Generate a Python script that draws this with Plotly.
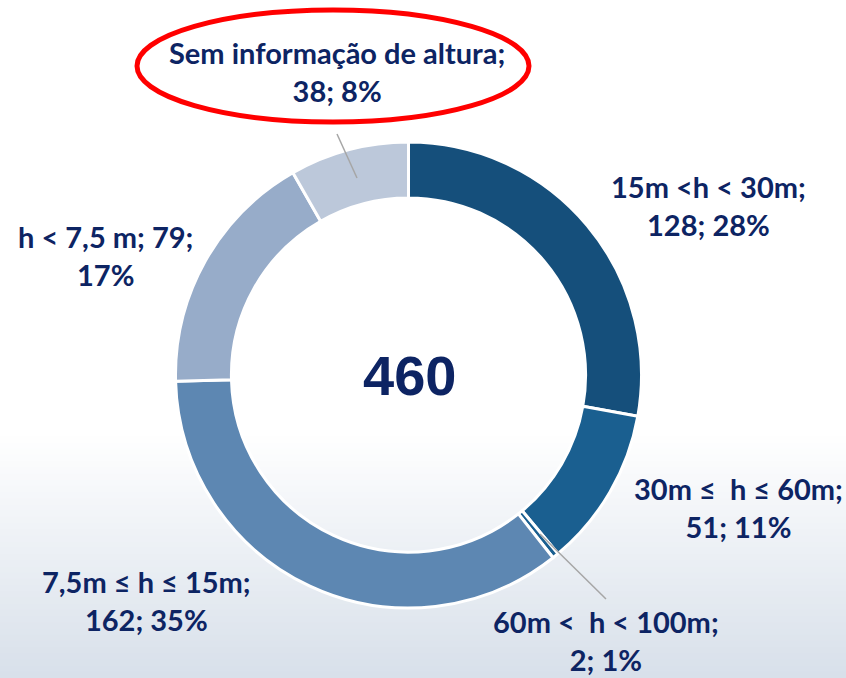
import plotly.graph_objects as go

categories = [
    "15m <h < 30m",
    "30m ≤  h ≤ 60m",
    "60m <  h < 100m",
    "7,5m ≤ h ≤ 15m",
    "h < 7,5 m",
    "Sem informação de altura",
]
counts = [128, 51, 2, 162, 79, 38]
percents = ["28%", "11%", "1%", "35%", "17%", "8%"]
total = sum(counts)

colors = ["#154F7B", "#1A5F90", "#1A5F90", "#5D87B2", "#97ACC9", "#BCC8DA"]
NAVY = "#0D2463"
W, H = 846, 678

fig = go.Figure(
    go.Pie(
        labels=categories,
        values=counts,
        sort=False,
        direction="clockwise",
        rotation=0,
        hole=0.76,
        textinfo="none",
        marker=dict(colors=colors, line=dict(color="white", width=3)),
        domain=dict(x=[175.5 / W, 641.5 / W], y=[70 / H, 536 / H]),
        showlegend=False,
    )
)

# soft white -> grey-blue background fade at the bottom
shapes = []
top, bottom = 430, H
steps = 40
c0, c1 = (255, 255, 255), (216, 224, 234)
for i in range(steps):
    t = i / (steps - 1)
    col = tuple(round(a + (b - a) * t) for a, b in zip(c0, c1))
    y0 = top + (bottom - top) * i / steps
    y1 = top + (bottom - top) * (i + 1) / steps + 1
    shapes.append(dict(
        type="rect", xref="paper", yref="paper", layer="below",
        x0=0, x1=1, y0=max(0, 1 - y1 / H), y1=1 - y0 / H,
        fillcolor="rgb(%d,%d,%d)" % col, line=dict(width=0),
    ))

# leader lines
for (xa, ya), (xb, yb) in [((337, 134), (357, 178)), ((540, 534), (606, 599))]:
    shapes.append(dict(
        type="line", xref="paper", yref="paper",
        x0=xa / W, y0=1 - ya / H, x1=xb / W, y1=1 - yb / H,
        line=dict(color="#A6A6A6", width=1.5),
    ))

# red highlight ellipse
shapes.append(dict(
    type="circle", xref="paper", yref="paper",
    x0=137 / W, x1=529 / W, y0=1 - 122 / H, y1=1 - 10 / H,
    line=dict(color="#FF0000", width=5),
))

label_pos = [(708, 205), (738, 507), (606, 640), (146, 600), (105, 255), (337, 72)]
annotations = []
for cat, n, p, (x, y) in zip(categories, counts, percents, label_pos):
    if cat == "h < 7,5 m":
        txt = f"{cat}; {n};<br>{p}"
    else:
        txt = f"{cat};<br>{n}; {p}"
    annotations.append(dict(
        x=x / W, y=1 - y / H, xref="paper", yref="paper",
        xanchor="center", yanchor="middle",
        text=txt, showarrow=False, align="center",
        font=dict(family="Lato", size=29, color=NAVY, weight="bold"),
    ))

annotations.append(dict(
    x=409 / W, y=1 - 375 / H, xref="paper", yref="paper",
    xanchor="center", yanchor="middle",
    text=str(total), showarrow=False,
    font=dict(family="Liberation Sans", size=56, color=NAVY, weight="bold"),
))

fig.update_layout(
    width=W, height=H,
    margin=dict(l=0, r=0, t=0, b=0),
    paper_bgcolor="white",
    plot_bgcolor="white",
    shapes=shapes,
    annotations=annotations,
)

fig.write_html(
    "out.html",
    config={"displayModeBar": False},
    post_script="document.body.style.margin='0';",
)
